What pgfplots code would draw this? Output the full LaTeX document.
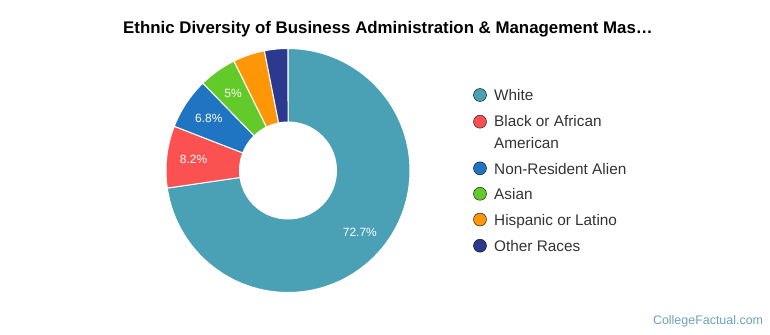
\documentclass[border=0pt]{standalone}
\usepackage{fontspec}
\setmainfont{Liberation Sans}
\usepackage{pgfplots}
\usepackage{pgfplotstable}
\pgfplotsset{compat=1.18}

\definecolor{cWhite}{HTML}{4AA0B5}
\definecolor{cBlack}{HTML}{FC5151}
\definecolor{cNRA}{HTML}{2075C3}
\definecolor{cAsian}{HTML}{62CB2A}
\definecolor{cHisp}{HTML}{FF9608}
\definecolor{cOther}{HTML}{2B3A8F}
\definecolor{cText}{HTML}{333333}
\definecolor{cMark}{HTML}{6AA3B8}

% Share of each group (percent)
\pgfplotstableread{
group pct
White 72.7
Black 8.2
NRA 6.8
Asian 5.0
Hispanic 4.2
Other 3.1
}\ethnic

\pgfplotstablegetelem{0}{pct}\of\ethnic \pgfmathsetmacro\pA{\pgfplotsretval}
\pgfplotstablegetelem{1}{pct}\of\ethnic \pgfmathsetmacro\pB{\pgfplotsretval}
\pgfplotstablegetelem{2}{pct}\of\ethnic \pgfmathsetmacro\pC{\pgfplotsretval}
\pgfplotstablegetelem{3}{pct}\of\ethnic \pgfmathsetmacro\pD{\pgfplotsretval}
\pgfplotstablegetelem{4}{pct}\of\ethnic \pgfmathsetmacro\pE{\pgfplotsretval}
\pgfplotstablegetelem{5}{pct}\of\ethnic \pgfmathsetmacro\pF{\pgfplotsretval}

% cumulative angles (degrees, clockwise from 12 o'clock)
\pgfmathsetmacro\aA{0}
\pgfmathsetmacro\aB{\aA+3.6*\pA}
\pgfmathsetmacro\aC{\aB+3.6*\pB}
\pgfmathsetmacro\aD{\aC+3.6*\pC}
\pgfmathsetmacro\aE{\aD+3.6*\pD}
\pgfmathsetmacro\aF{\aE+3.6*\pE}
\pgfmathsetmacro\aG{\aF+3.6*\pF}

\def\cx{288}
\def\cy{164.5}
\def\Ro{122}
\def\Ri{49}
\def\Rl{95}

\tikzset{pct label/.style={text=white, font=\fontsize{12}{14}\selectfont}}

\newcommand\wedgeplot[3]{%
  \addplot[fill=#3, draw=white, line width=1bp, domain=#1:#2, samples=90]
    ({\cx+\Ro*sin(x)},{\cy+\Ro*cos(x)}) -- (axis cs:\cx,\cy) -- cycle;%
}
\newcommand\pctlabel[3]{%
  \pgfmathsetmacro\mid{(#1+#2)/2}%
  \pgfmathsetmacro\lx{\cx+\Rl*sin(\mid)}%
  \pgfmathsetmacro\ly{\cy+\Rl*cos(\mid)}%
  \edef\temp{\noexpand\node[pct label] at (axis cs:\lx,\ly) {#3};}%
  \temp
}

\begin{document}
\begin{tikzpicture}
\useasboundingbox (0,0) rectangle (770bp,335bp);
\begin{axis}[
  at={(0,0)}, anchor=south west,
  width=770bp, height=335bp, scale only axis,
  xmin=0, xmax=770, ymin=0, ymax=335,
  hide axis, clip=false]

\wedgeplot{\aA}{\aB}{cWhite}
\wedgeplot{\aB}{\aC}{cBlack}
\wedgeplot{\aC}{\aD}{cNRA}
\wedgeplot{\aD}{\aE}{cAsian}
\wedgeplot{\aE}{\aF}{cHisp}
\wedgeplot{\aF}{\aG}{cOther}

% hole
\addplot[fill=white, draw=none, domain=0:360, samples=120]
  ({\cx+\Ri*sin(x)},{\cy+\Ri*cos(x)}) -- cycle;

\pctlabel{\aA}{\aB}{72.7\%}
\pctlabel{\aB}{\aC}{8.2\%}
\pctlabel{\aC}{\aD}{6.8\%}
\pctlabel{\aD}{\aE}{5\%}

% title
\node[anchor=base, font=\bfseries\fontsize{16.9}{20}\selectfont, text=black]
  at (axis cs:388,301.7) {Ethnic Diversity of Business Administration \& Management Mas…};

% legend
\addplot[only marks, mark=*, mark size=6.5, mark options={draw=none, fill=cWhite}] coordinates {(480,240)};
\addplot[only marks, mark=*, mark size=6.5, mark options={draw=none, fill=cBlack}] coordinates {(480,213.3)};
\addplot[only marks, mark=*, mark size=6.5, mark options={draw=none, fill=cNRA}] coordinates {(480,166.7)};
\addplot[only marks, mark=*, mark size=6.5, mark options={draw=none, fill=cAsian}] coordinates {(480,141.2)};
\addplot[only marks, mark=*, mark size=6.5, mark options={draw=none, fill=cHisp}] coordinates {(480,115.5)};
\addplot[only marks, mark=*, mark size=6.5, mark options={draw=none, fill=cOther}] coordinates {(480,89.3)};

\begin{scope}[every node/.style={anchor=base west, text=cText, font=\fontsize{15.4}{18}\selectfont, inner sep=0pt}]
\node at (axis cs:494,234.3) {White};
\node at (axis cs:494,208.3) {Black or African};
\node at (axis cs:494,186.7) {American};
\node at (axis cs:494,160.7) {Non-Resident Alien};
\node at (axis cs:494,135.0) {Asian};
\node at (axis cs:494,109.3) {Hispanic or Latino};
\node at (axis cs:494,83.3) {Other Races};
\end{scope}

% watermark
\node[anchor=base east, inner sep=0pt, text=cMark, font=\fontsize{12.5}{15}\selectfont]
  at (axis cs:763.3,10) {CollegeFactual.com};

\end{axis}
\end{tikzpicture}
\end{document}
